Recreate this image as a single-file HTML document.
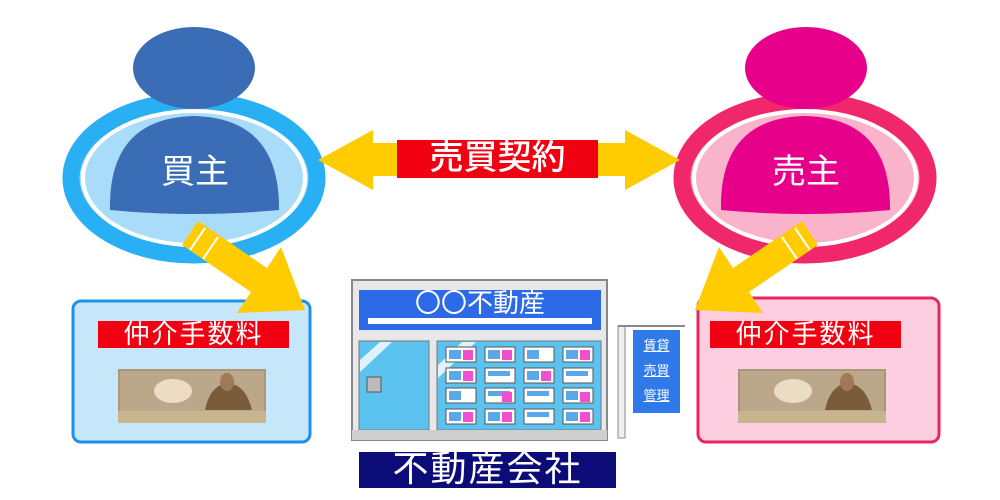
<!DOCTYPE html>
<html><head><meta charset="utf-8"><style>
body{margin:0;width:1000px;height:500px;background:#fff;overflow:hidden;position:relative;font-family:"Liberation Sans","Noto Sans CJK JP",sans-serif}
.a{position:absolute}
.lbl{position:absolute;background:#f00010;color:#fff;text-align:center;white-space:nowrap}
</style></head><body>
<svg class="a" style="left:0;top:0" width="1000" height="500">
<ellipse cx="194" cy="178" rx="123" ry="77" fill="#a9dcf8" stroke="#29aff4" stroke-width="17"/>
<ellipse cx="194" cy="178" rx="111" ry="67" fill="none" stroke="#fff" stroke-width="4"/>
<path d="M110 210 Q108 118 194 116 Q280 118 279 210 Q194 218 110 210Z" fill="#3a6db5"/>
<ellipse cx="194" cy="68" rx="61" ry="41" fill="#3a6db5"/>
<ellipse cx="805" cy="178" rx="123" ry="77" fill="#f9b4cc" stroke="#f0276a" stroke-width="17"/>
<ellipse cx="805" cy="178" rx="111" ry="67" fill="none" stroke="#fff" stroke-width="4"/>
<path d="M721 210 Q719 118 805 116 Q891 118 890 210 Q805 218 721 210Z" fill="#e6008a"/>
<ellipse cx="806" cy="68" rx="61" ry="41" fill="#e6008a"/>
<polygon points="318,160 373,130 373,143 625,143 625,130 680,160 625,190 625,176 373,176 373,190" fill="#fecc00"/>
<rect x="73" y="301" width="237" height="141" rx="8" fill="#c6e7fa" stroke="#1e90e8" stroke-width="3"/>
<rect x="698" y="298" width="241" height="144" rx="8" fill="#fdcde0" stroke="#e8275e" stroke-width="3"/>
<polygon points="198,221 267,268 281,247 305,310 237,313 251,292 182,245" fill="#fecc00"/>
<polygon points="802,221 733,268 719,247 695,310 763,313 749,292 818,245" fill="#fecc00"/>
<line x1="205" y1="228" x2="190" y2="250" stroke="#fff" stroke-width="2"/>
<line x1="218" y1="237" x2="203" y2="259" stroke="#fff" stroke-width="2"/>
<line x1="795" y1="228" x2="810" y2="250" stroke="#fff" stroke-width="2"/>
<line x1="782" y1="237" x2="797" y2="259" stroke="#fff" stroke-width="2"/>
<g><rect x="118" y="369" width="148" height="54" fill="#a89878"/><rect x="120" y="371" width="144" height="40" fill="#bba88a"/><ellipse cx="173" cy="391" rx="19" ry="12" fill="#ecdcc4"/><path d="M205 410 Q210 385 228 383 Q246 385 252 410Z" fill="#7a5c3a"/><ellipse cx="227" cy="382" rx="7" ry="9" fill="#a07a58"/><rect x="118" y="411" width="148" height="12" fill="#c8b48e"/></g>
<g><rect x="738" y="369" width="148" height="54" fill="#a89878"/><rect x="740" y="371" width="144" height="40" fill="#bba88a"/><ellipse cx="793" cy="391" rx="19" ry="12" fill="#ecdcc4"/><path d="M825 410 Q830 385 848 383 Q866 385 872 410Z" fill="#7a5c3a"/><ellipse cx="847" cy="382" rx="7" ry="9" fill="#a07a58"/><rect x="738" y="411" width="148" height="12" fill="#c8b48e"/></g>
<rect x="352" y="280" width="255" height="160" fill="#e8e8ea" stroke="#888" stroke-width="2"/>
<rect x="359" y="290" width="242" height="40" fill="#2d6ae8"/>
<rect x="368" y="318" width="224" height="6" fill="#fff"/>
<rect x="359" y="341" width="70" height="89" fill="#5cc3f0" stroke="#777"/>
<polygon points="360,360 380,342 392,342 360,372" fill="#fff" opacity="0.8"/>
<rect x="367" y="377" width="14" height="15" fill="#bbb" stroke="#555"/>
<rect x="437" y="341" width="164" height="89" fill="#5cc3f0" stroke="#777"/>
<polygon points="438,365 462,342 476,342 438,378" fill="#fff" opacity="0.8"/>
<rect x="352" y="430" width="255" height="10" fill="#cfcfd2"/>
<g fill="#fff" stroke="#555">
<rect x="446" y="347" width="30" height="15"/><rect x="485" y="347" width="30" height="15"/><rect x="524" y="347" width="30" height="15"/><rect x="563" y="347" width="30" height="15"/>
<rect x="446" y="368" width="30" height="15"/><rect x="485" y="368" width="30" height="15"/><rect x="524" y="368" width="30" height="15"/><rect x="563" y="368" width="30" height="15"/>
<rect x="446" y="388" width="30" height="15"/><rect x="485" y="388" width="30" height="15"/><rect x="524" y="388" width="30" height="15"/><rect x="563" y="388" width="30" height="15"/>
<rect x="446" y="409" width="30" height="15"/><rect x="485" y="409" width="30" height="15"/><rect x="524" y="409" width="30" height="15"/><rect x="563" y="409" width="30" height="15"/>
</g>
<g fill="#5aa8ea">
<rect x="449" y="350" width="12" height="9"/><rect x="488" y="350" width="12" height="9"/><rect x="527" y="350" width="12" height="9"/><rect x="566" y="350" width="12" height="9"/><rect x="449" y="371" width="12" height="9"/><rect x="488" y="371" width="22" height="5"/><rect x="527" y="371" width="12" height="9"/><rect x="566" y="371" width="22" height="5"/><rect x="449" y="391" width="12" height="9"/><rect x="488" y="391" width="22" height="5"/><rect x="527" y="391" width="22" height="5"/><rect x="566" y="391" width="12" height="9"/><rect x="449" y="412" width="12" height="9"/><rect x="488" y="412" width="12" height="9"/><rect x="527" y="412" width="22" height="5"/><rect x="566" y="412" width="12" height="9"/>
</g>
<g fill="#f050d0">
<rect x="463" y="350" width="10" height="10"/><rect x="502" y="350" width="10" height="10"/><rect x="541" y="371" width="10" height="10"/><rect x="580" y="350" width="10" height="10"/><rect x="463" y="371" width="10" height="10"/><rect x="502" y="392" width="10" height="10"/><rect x="580" y="392" width="10" height="10"/><rect x="463" y="412" width="10" height="10"/><rect x="502" y="412" width="10" height="10"/><rect x="580" y="412" width="10" height="10"/>
</g>
<rect x="618" y="326" width="7" height="112" fill="#eee" stroke="#888"/>
<line x1="618" y1="326" x2="685" y2="326" stroke="#888" stroke-width="2"/>
<rect x="633" y="330" width="47" height="83" fill="#2f7ae8"/>
</svg>
<div class="a" style="left:633px;top:333px;width:47px;color:#fff;font-size:13px;line-height:25px;text-align:center;text-decoration:underline">賃貸<br>売買<br>管理</div>
<div class="a" style="left:130px;top:152px;width:130px;text-align:center;color:#fff;font-size:34px;line-height:40px">買主</div>
<div class="a" style="left:741px;top:152px;width:130px;text-align:center;color:#fff;font-size:34px;line-height:40px">売主</div>
<div class="lbl" style="left:397px;top:140px;width:201px;height:38px;font-size:34px;line-height:36px;font-weight:500">売買契約</div>
<div class="lbl" style="left:98px;top:321px;width:191px;height:27px;font-size:26px;line-height:26px;letter-spacing:2px">仲介手数料</div>
<div class="lbl" style="left:710px;top:321px;width:191px;height:27px;font-size:26px;line-height:26px;letter-spacing:2px">仲介手数料</div>
<div class="a" style="left:359px;top:288px;width:242px;text-align:center;color:#fff;font-size:26px;line-height:30px">〇〇不動産</div>
<div class="a" style="left:359px;top:452px;width:257px;height:36px;background:#0c0c78;color:#fff;font-size:36px;line-height:34px;text-align:center;letter-spacing:2px">不動産会社</div>
</body></html>
